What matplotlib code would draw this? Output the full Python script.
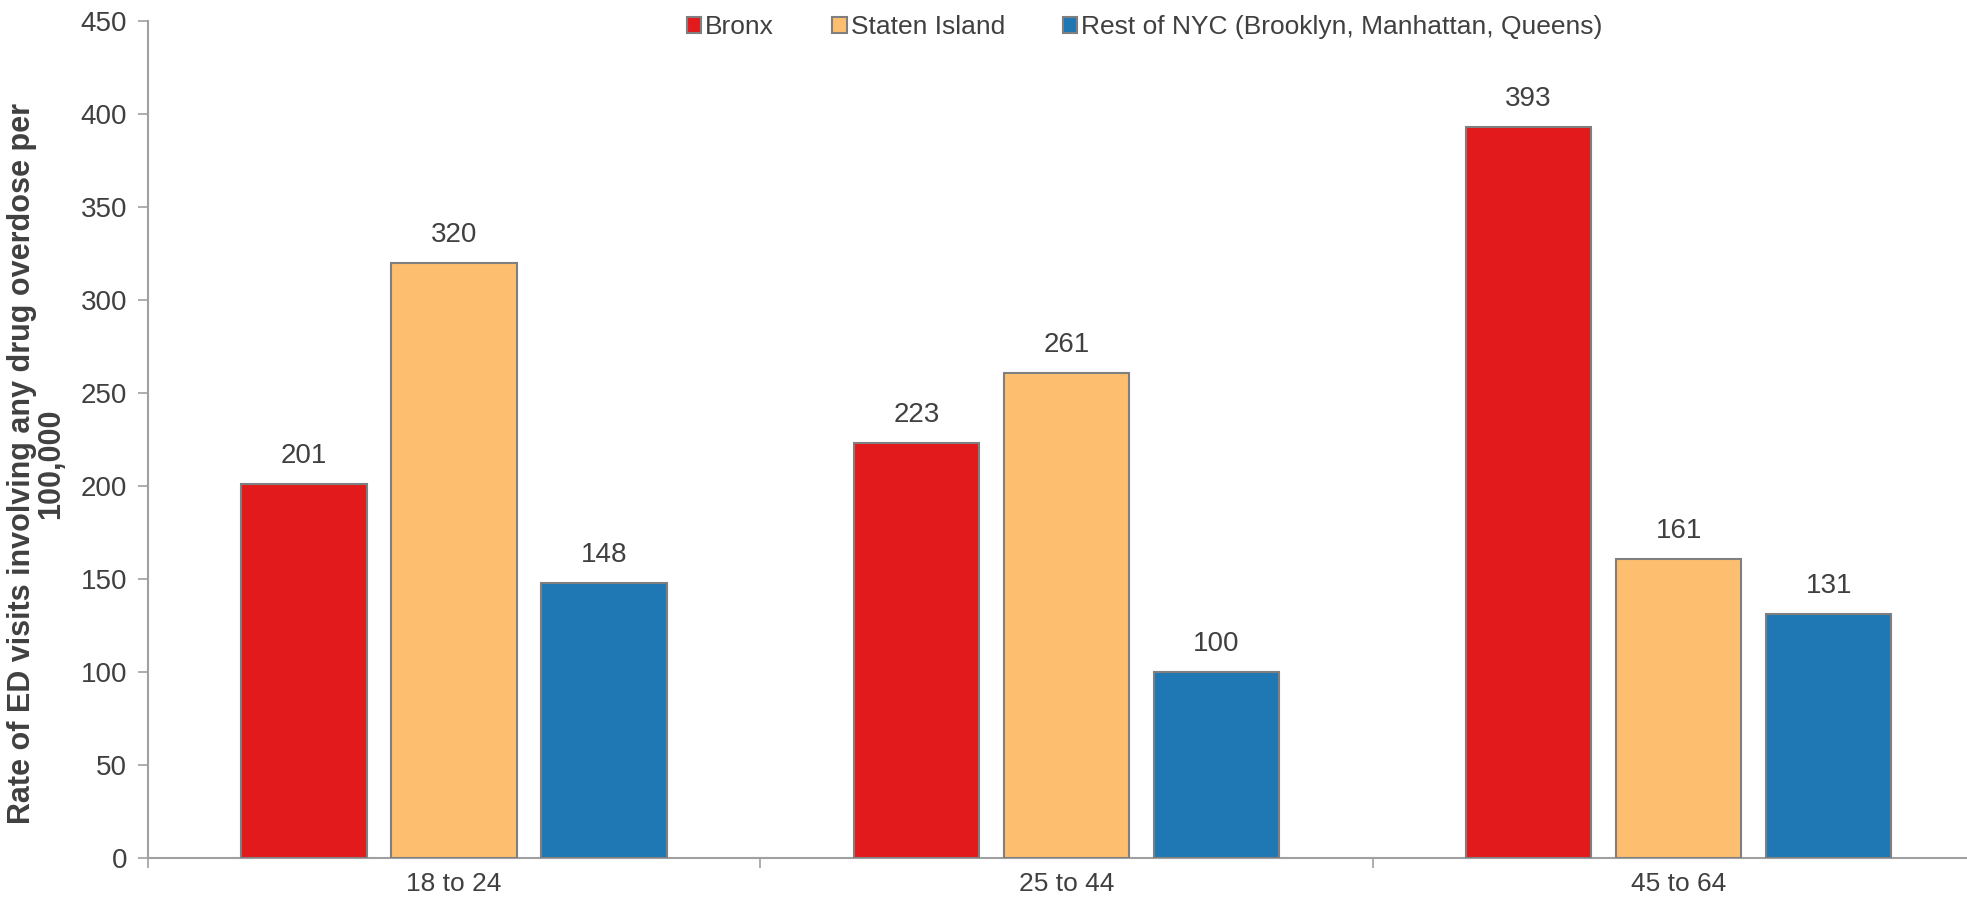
import matplotlib
matplotlib.use("Agg")
import matplotlib.pyplot as plt
import numpy as np

plt.rcParams['font.family'] = ['Liberation Sans', 'DejaVu Sans']

age_groups = ["18 to 24", "25 to 44", "45 to 64"]
series_names = ["Bronx", "Staten Island", "Rest of NYC (Brooklyn, Manhattan, Queens)"]
bronx = [201, 223, 393]
staten_island = [320, 261, 161]
rest_of_nyc = [148, 100, 131]
colors = ["#E31A1C", "#FDBF6F", "#1F78B4"]
y_ticks = [0, 50, 100, 150, 200, 250, 300, 350, 400, 450]

text_color = "#404040"
axis_color = "#A0A0A0"

fig = plt.figure(figsize=(19.67, 8.99), dpi=100)
ax = fig.add_axes([148 / 1967, 1 - 858 / 899, 1 - 148 / 1967, (858 - 21) / 899])

x = np.arange(len(age_groups))
width = 0.205
pitch = 0.245
for i, (vals, name, col) in enumerate(zip([bronx, staten_island, rest_of_nyc], series_names, colors)):
    pos = x + (i - 1) * pitch
    bars = ax.bar(pos, vals, width, color=col, edgecolor="#7F7F7F", linewidth=1.5, label=name, zorder=3)
    for b, v in zip(bars, vals):
        ax.text(b.get_x() + b.get_width() / 2, v + 8, f"{v}", ha="center", va="bottom",
                fontsize=20, color=text_color)

ax.set_yticks(y_ticks)
ax.tick_params(axis="y", labelsize=20, colors=text_color, length=7, width=1.2, color=axis_color, pad=8)

# category boundaries carry the tick marks, labels sit at category centres
ax.set_xticks([-0.5, 0.5, 1.5, 2.5])
ax.set_xticklabels([])
ax.tick_params(axis="x", which="major", length=7, width=1.2, color=axis_color)
ax.set_xticks(x, minor=True)
ax.set_xticklabels(age_groups, minor=True)
ax.tick_params(axis="x", which="minor", length=0, labelsize=19, labelcolor=text_color, pad=10)

ax.set_xlim(-0.5, 2.471)
ax.set_ylim(0, 450)

for side in ["top", "right"]:
    ax.spines[side].set_visible(False)
for side in ["left", "bottom"]:
    ax.spines[side].set_color(axis_color)
    ax.spines[side].set_linewidth(1.5)

ax.set_ylabel("Rate of ED visits involving any drug overdose per\n100,000", fontsize=22,
              fontweight="bold", color=text_color, linespacing=0.98)
ax.yaxis.set_label_coords(-0.045, 0.471)

leg = ax.legend(loc="upper center", bbox_to_anchor=(0.548, 1.035), ncol=3, frameon=False,
                fontsize=19, handlelength=0.55, handleheight=0.55, handletextpad=0.15,
                columnspacing=2.2, labelcolor=text_color)

fig.savefig("out.png", dpi=100)
